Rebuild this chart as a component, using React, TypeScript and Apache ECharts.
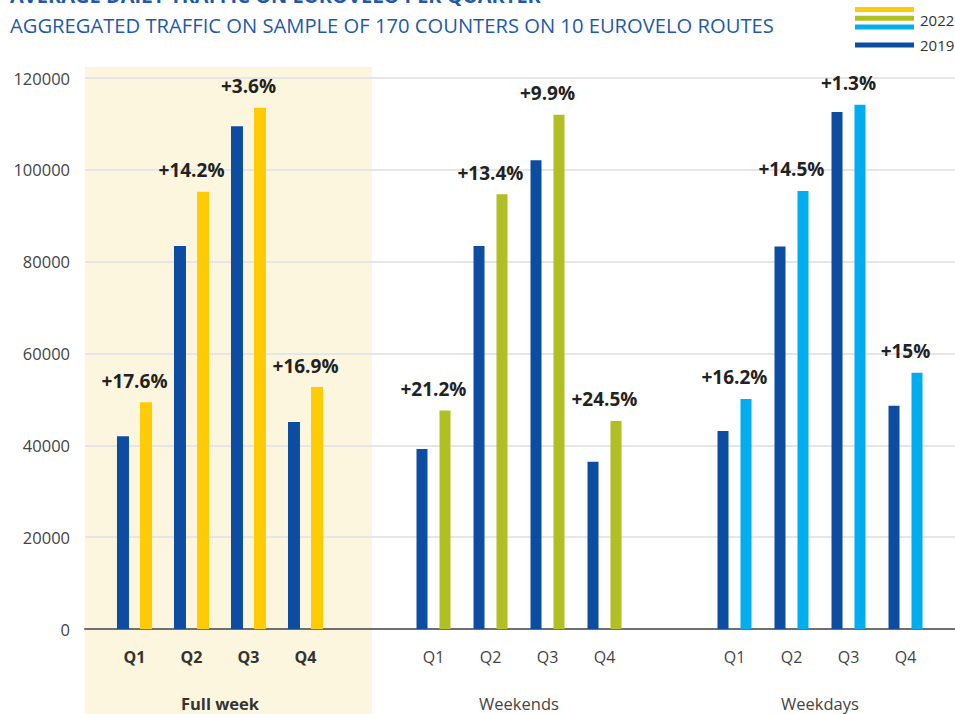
import React, { useEffect, useRef } from "react";
import * as echarts from "echarts";

const quarters = ["Q1", "Q2", "Q3", "Q4"];
const groupNames = ["Full week", "Weekends", "Weekdays"];
const fullWeek2019 = [42000, 83400, 109500, 45100];
const fullWeek2022 = [49400, 95200, 113500, 52700];
const weekends2019 = [39200, 83400, 102100, 36400];
const weekends2022 = [47600, 94700, 112000, 45300];
const weekdays2019 = [43100, 83300, 112600, 48600];
const weekdays2022 = [50100, 95400, 114200, 55800];
const fullWeekChange = ["+17.6%", "+14.2%", "+3.6%", "+16.9%"];
const weekendsChange = ["+21.2%", "+13.4%", "+9.9%", "+24.5%"];
const weekdaysChange = ["+16.2%", "+14.5%", "+1.3%", "+15%"];
const yTicks = [0, 20000, 40000, 60000, 80000, 100000, 120000];
const legendYears = ["2022", "2019"];

const FONT = "'Open Sans', 'Noto Sans', sans-serif";
const BLUE = "#0c4da2";
const YELLOW = "#ffcb05";
const GREEN = "#b0bf24";
const CYAN = "#00aeef";
const BAND = "#fdf6de";
const TITLE_BLUE = "#1f5aa8";

export default function App() {
  const ref = useRef<HTMLDivElement>(null);
  useEffect(() => {
    if (!ref.current) return;
    const chart = echarts.init(ref.current, null, { renderer: "svg" });
    const top = 78;
    const bottom = 85;
    const groups = [
      { left: 106, d19: fullWeek2019, d22: fullWeek2022, ch: fullWeekChange, c: YELLOW, bold: true, bw: 12, gap: "92%", off: 11.5 },
      { left: 405, d19: weekends2019, d22: weekends2022, ch: weekendsChange, c: GREEN, bold: false, bw: 11, gap: "109%", off: 11.5 },
      { left: 706, d19: weekdays2019, d22: weekdays2022, ch: weekdaysChange, c: CYAN, bold: false, bw: 11, gap: "109%", off: 11.5 },
    ];
    const grids: any[] = [{ left: 85, right: 0, top, bottom, outerBoundsMode: "none", containLabel: false }];
    const xAxes: any[] = [
      {
        type: "value", gridIndex: 0, min: 0, max: 1,
        axisLabel: { show: false }, axisTick: { show: false }, splitLine: { show: false },
        axisLine: { show: true, lineStyle: { color: "#6f6f6f", width: 2 } },
      },
    ];
    const yAxes: any[] = [
      {
        type: "value", gridIndex: 0, min: 0, max: 120000, interval: 20000,
        axisLine: { show: false }, axisTick: { show: false },
        axisLabel: { color: "#444", fontSize: 16.5, fontFamily: FONT, margin: 15, formatter: (v: number) => (yTicks.includes(v) ? String(v) : "") },
        splitLine: { lineStyle: { color: "#e6e6e6", width: 2 } },
      },
    ];
    const series: any[] = [];
    groups.forEach((g, i) => {
      const gi = i + 1;
      grids.push({ left: g.left, width: 228, top, bottom, outerBoundsMode: "none", containLabel: false });
      xAxes.push({
        type: "category", gridIndex: gi, data: quarters,
        axisLine: { show: false }, axisTick: { show: false },
        axisLabel: { color: g.bold ? "#333" : "#444", fontWeight: g.bold ? "bold" : "normal", fontSize: 16, fontFamily: FONT, margin: 20 },
        name: groupNames[i], nameLocation: "middle", nameGap: 66,
        nameTextStyle: { color: g.bold ? "#333" : "#444", fontWeight: g.bold ? "bold" : "normal", fontSize: 16.5, fontFamily: FONT },
      });
      yAxes.push({ type: "value", gridIndex: gi, min: 0, max: 120000, show: false, splitLine: { show: false } });
      series.push({
        type: "bar", name: "2019", xAxisIndex: gi, yAxisIndex: gi, data: g.d19,
        barWidth: g.bw, barGap: g.gap, itemStyle: { color: BLUE },
      });
      series.push({
        type: "bar", name: "2022", xAxisIndex: gi, yAxisIndex: gi, data: g.d22,
        barWidth: g.bw, barGap: g.gap, itemStyle: { color: g.c },
        label: {
          show: true, position: "top", distance: 12, offset: [-g.off, 0],
          formatter: (p: any) => g.ch[p.dataIndex],
          color: "#222", fontWeight: "bold", fontSize: 19, fontFamily: FONT,
        },
      });
    });
    const legendColors = [YELLOW, GREEN, CYAN];
    const graphic: any[] = [
      { type: "rect", z: -10, shape: { x: 85, y: 67, width: 287, height: 647 }, style: { fill: BAND }, silent: true },
      {
        type: "text", x: 10, y: -5,
        style: { text: "AVERAGE DAILY TRAFFIC ON EUROVELO PER QUARTER", fill: TITLE_BLUE, font: `bold 20px ${FONT}`, verticalAlign: "middle" },
      },
      {
        type: "text", x: 10, y: 25,
        style: { text: "AGGREGATED TRAFFIC ON SAMPLE OF 170 COUNTERS ON 10 EUROVELO ROUTES", fill: TITLE_BLUE, font: `20.2px ${FONT}`, verticalAlign: "middle" },
      },
      ...legendColors.map((c, k) => ({
        type: "rect", shape: { x: 855, y: 7 + k * 8.8, width: 59, height: 5 }, style: { fill: c },
      })),
      { type: "rect", shape: { x: 855, y: 42.5, width: 59, height: 5 }, style: { fill: BLUE } },
      { type: "text", x: 920, y: 20, style: { text: legendYears[0], fill: "#333", font: `15px ${FONT}`, verticalAlign: "middle" } },
      { type: "text", x: 920, y: 45, style: { text: legendYears[1], fill: "#333", font: `15px ${FONT}`, verticalAlign: "middle" } },
    ];
    chart.setOption({
      animation: false,
      backgroundColor: "#ffffff",
      grid: grids,
      xAxis: xAxes,
      yAxis: yAxes,
      series,
      graphic,
    });
    return () => chart.dispose();
  }, []);
  return <div ref={ref} style={{ position: "absolute", left: 0, top: 0, width: 955, height: 714 }} />;
}
